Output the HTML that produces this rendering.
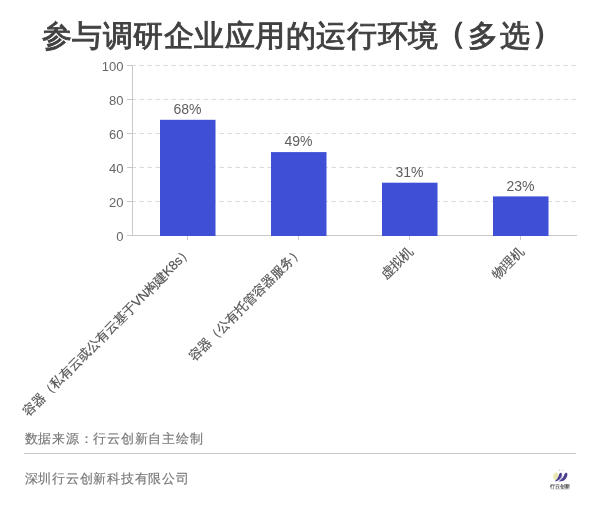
<!DOCTYPE html>
<html><head><meta charset="utf-8">
<style>
html,body{margin:0;padding:0;background:#fff;}
body{width:600px;height:510px;position:relative;overflow:hidden;will-change:transform;font-family:"Liberation Sans",sans-serif;}
.t{position:absolute;white-space:nowrap;line-height:1;}
#title{left:41.5px;top:20.5px;font-size:30px;letter-spacing:0.55px;font-weight:400;-webkit-text-stroke:0.9px #404040;color:#404040;}
.yl{position:absolute;right:476.5px;font-size:13px;color:#666;line-height:1;text-align:right;}
.vl{position:absolute;font-size:14px;color:#5e5e5e;line-height:1;width:60px;text-align:center;}
.xl{position:absolute;font-size:13px;color:#555;line-height:1;white-space:nowrap;transform-origin:100% 50%;transform:translate(0.8px,4.8px) rotate(-45deg);text-rendering:geometricPrecision;letter-spacing:-0.15px;-webkit-text-stroke:0.2px #555;}
#src{left:24.5px;top:431.5px;font-size:13px;letter-spacing:0.75px;color:#777;-webkit-text-stroke:0.15px #777;}
#co{left:24.5px;top:472px;font-size:13px;letter-spacing:0.75px;color:#777;-webkit-text-stroke:0.15px #777;}
#hr{position:absolute;left:24px;top:453px;width:552px;height:1px;background:#cacaca;}
</style></head><body>
<div class="t" id="title">参与调研企业应用的运行环境<span style="position:relative;left:-3px;top:-2.5px;-webkit-text-stroke:1.3px #404040">（</span><span style="position:relative;left:-1px">多</span>选<span style="position:relative;top:-2.5px;left:1.5px;-webkit-text-stroke:1.3px #404040">）</span></div>
<svg width="600" height="510" style="position:absolute;left:0;top:0">
<g stroke="#dadada" stroke-width="1" stroke-dasharray="4.5,3.5">
<line x1="131.5" y1="65.5" x2="577" y2="65.5"/>
<line x1="131.5" y1="99.5" x2="577" y2="99.5"/>
<line x1="131.5" y1="133.5" x2="577" y2="133.5"/>
<line x1="131.5" y1="167.5" x2="577" y2="167.5"/>
<line x1="131.5" y1="201.5" x2="577" y2="201.5"/>
</g>
<g stroke="#c8c8c8" stroke-width="1">
<line x1="132.5" y1="65" x2="132.5" y2="236"/>
<line x1="132" y1="235.5" x2="577" y2="235.5"/>
<line x1="127" y1="65.5" x2="132" y2="65.5"/>
<line x1="127" y1="99.5" x2="132" y2="99.5"/>
<line x1="127" y1="133.5" x2="132" y2="133.5"/>
<line x1="127" y1="167.5" x2="132" y2="167.5"/>
<line x1="127" y1="201.5" x2="132" y2="201.5"/>
<line x1="127" y1="235.5" x2="132" y2="235.5"/>
<line x1="187.5" y1="236" x2="187.5" y2="240"/>
<line x1="298.5" y1="236" x2="298.5" y2="240"/>
<line x1="409.5" y1="236" x2="409.5" y2="240"/>
<line x1="520.5" y1="236" x2="520.5" y2="240"/>
</g>
<g fill="#3f4fd6">
<rect x="160" y="119.8" width="55.5" height="116.2"/>
<rect x="271" y="152.1" width="55.5" height="83.9"/>
<rect x="382" y="182.7" width="55.5" height="53.3"/>
<rect x="493" y="196.4" width="55.5" height="39.6"/>
</g>
</svg>
<div class="yl" style="top:60px">100</div>
<div class="yl" style="top:94px">80</div>
<div class="yl" style="top:128px">60</div>
<div class="yl" style="top:162px">40</div>
<div class="yl" style="top:196px">20</div>
<div class="yl" style="top:230px">0</div>
<div class="vl" style="left:157.5px;top:102px">68%</div>
<div class="vl" style="left:268.5px;top:134px">49%</div>
<div class="vl" style="left:379.5px;top:165px">31%</div>
<div class="vl" style="left:490.5px;top:178.5px">23%</div>
<div class="xl" style="right:412px;top:238px">容器（私有云或公有云基于VN构建K8s）</div>
<div class="xl" style="right:301px;top:238px">容器（公有托管容器服务）</div>
<div class="xl" style="right:190px;top:238px">虚拟机</div>
<div class="xl" style="right:79px;top:238px">物理机</div>
<div class="t" id="src">数据来源：行云创新自主绘制</div>
<div id="hr"></div>
<div class="t" id="co">深圳行云创新科技有限公司</div>
<svg width="40" height="40" viewBox="0 0 40 40" style="position:absolute;left:540px;top:458px">
<ellipse cx="15.8" cy="18.2" rx="2.5" ry="3.7" fill="#ece9b4" transform="rotate(12 15.8 18.2)"/>
<path d="M21 14.8 C22.6 15.2 22 18.8 20 21 C18.4 22.7 16.6 23.4 14.6 23.3 C16.8 21.6 18 19.6 18.8 17.4 C19.3 15.9 19.9 14.6 21 14.8 Z" fill="#4a3e8e"/>
<path d="M26.4 14.8 C28 15.2 27.6 18.8 25.6 21 C23.8 22.9 21.4 23.6 18.4 23.5 C21.2 21.9 23 19.6 24 17.4 C24.6 15.9 25.3 14.6 26.4 14.8 Z" fill="#4a3e8e"/>
<path d="M22.3 17 C22.6 19 21.5 21.2 19.6 22.6 C20.6 21.2 21.6 19.2 22.3 17 Z" fill="#8a80c8"/>
<circle cx="19.6" cy="12.2" r="0.7" fill="#c9b9c9"/>
<circle cx="23" cy="12.2" r="0.6" fill="#c8c8d0"/>
<text x="20" y="29.6" font-size="4.8" font-weight="bold" text-anchor="middle" fill="#4a4a4a" font-family="Liberation Sans, sans-serif" style="letter-spacing:0.1px">行云创新</text>
<rect x="10.5" y="31.2" width="19" height="0.7" fill="#ddd"/>
</svg>
</body></html>
